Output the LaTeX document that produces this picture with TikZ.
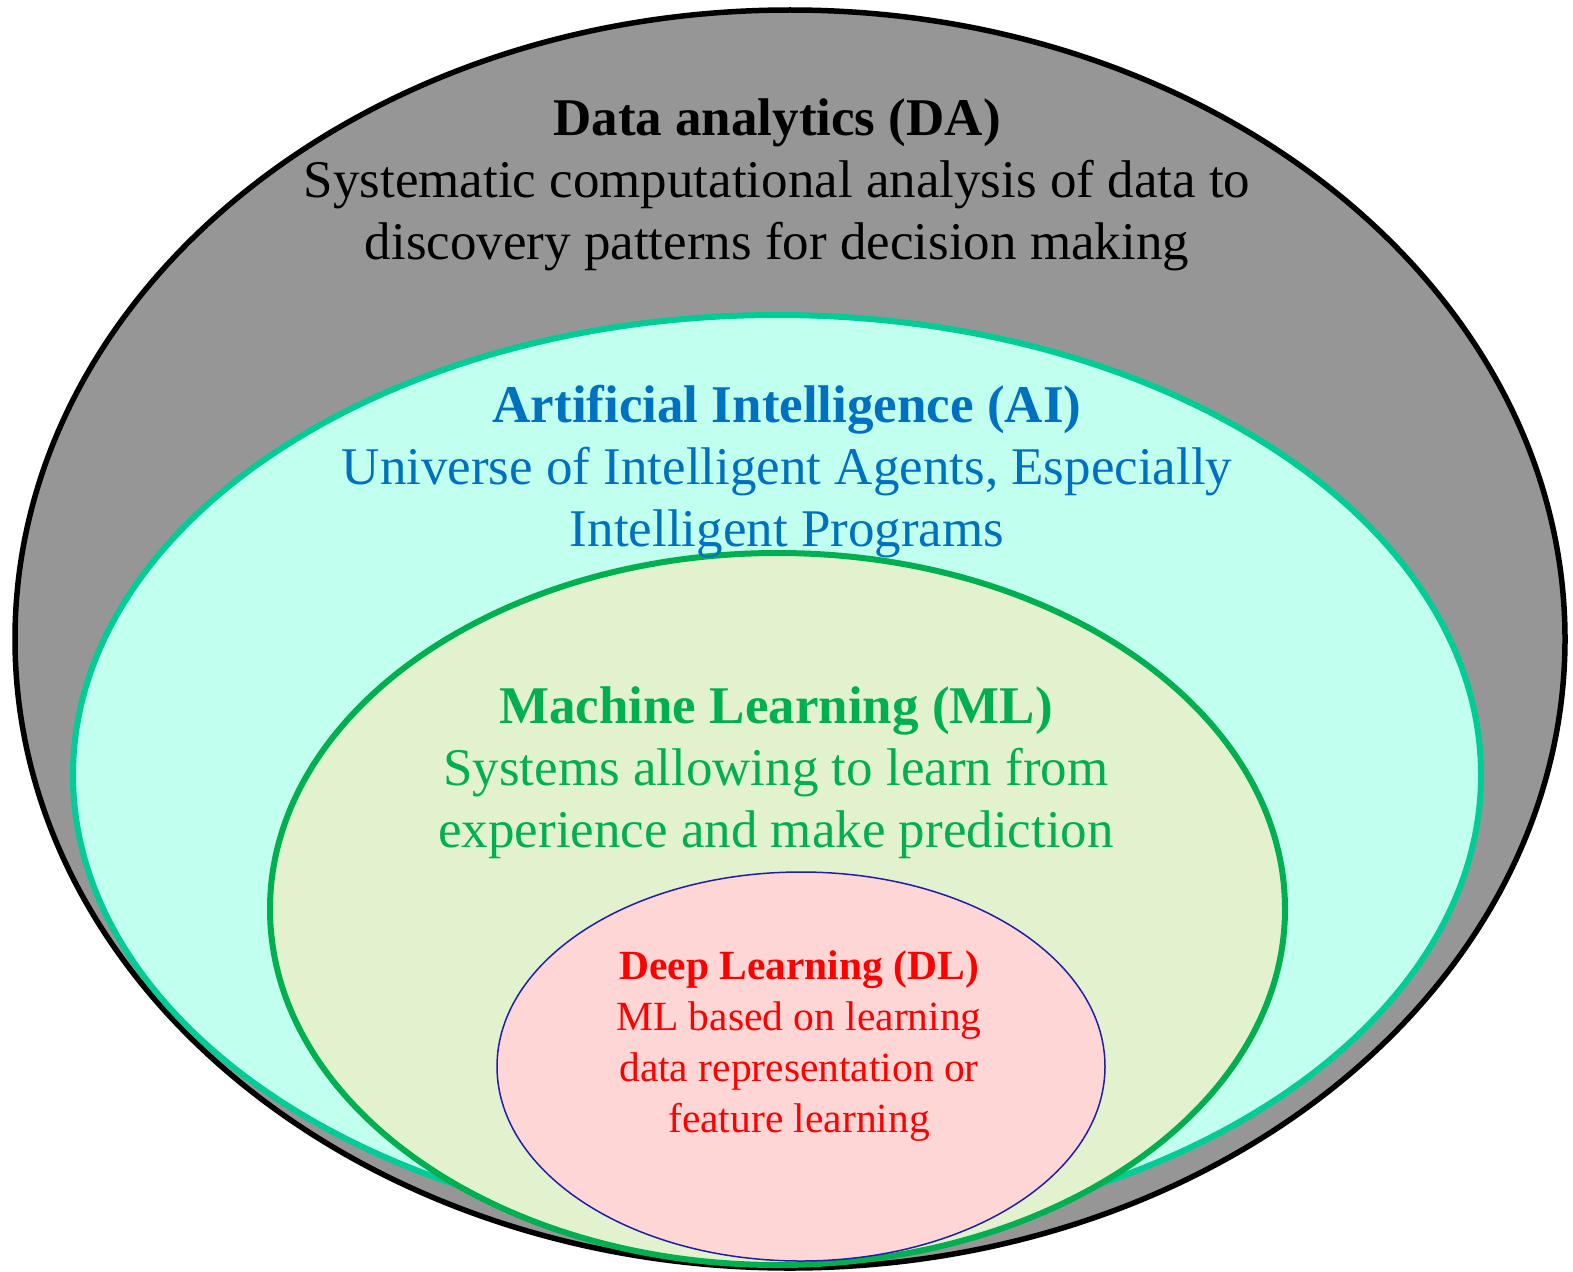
\documentclass[tikz,border=0pt]{standalone}
\usepackage{fontspec}
\setmainfont{Liberation Serif}
\usetikzlibrary{shapes.geometric}
\definecolor{dagray}{RGB}{150,150,150}
\definecolor{aifill}{RGB}{193,255,238}
\definecolor{ailine}{RGB}{0,204,150}
\definecolor{aitext}{RGB}{0,112,192}
\definecolor{mlfill}{RGB}{227,242,206}
\definecolor{mlline}{RGB}{0,176,80}
\definecolor{dlfill}{RGB}{255,214,214}
\definecolor{dlline}{RGB}{30,30,170}
\tikzset{
  set/.style={ellipse, inner sep=0pt},
  bigtext/.style={align=center, font=\fontsize{53}{62}\selectfont, inner sep=0pt},
  smalltext/.style={align=center, font=\fontsize{41.5}{51}\selectfont, inner sep=0pt},
}
\begin{document}
\begin{tikzpicture}[x=1pt,y=-1pt]
\useasboundingbox (0,0) rectangle (1573,1271);
% nested sets
\node[set, draw=black, line width=5.5pt, fill=dagray,
      minimum width=1550pt, minimum height=1258pt] (da) at (790,639) {};
\node[set, draw=ailine, line width=6pt, fill=aifill,
      minimum width=1408pt, minimum height=920pt] (ai) at (777,775) {};
\node[set, draw=mlline, line width=6pt, fill=mlfill,
      minimum width=1015pt, minimum height=712pt] (ml) at (777.5,909) {};
\node[set, draw=dlline, line width=1.5pt, fill=dlfill,
      minimum width=608pt, minimum height=389pt] (dl) at (801,1066.5) {};
% labels
\node[bigtext, text=black] (datext) at (777,185)
  {\textbf{Data analytics (DA)}\\Systematic computational analysis of data to\\discovery patterns for decision making};
\node[bigtext, text=aitext] (aitxt) at (787,472)
  {\textbf{Artificial Intelligence (AI)}\\Universe of Intelligent Agents, Especially\\Intelligent Programs};
\node[bigtext, text=mlline] (mltxt) at (776,773)
  {\textbf{Machine Learning (ML)}\\Systems allowing to learn from\\experience and make prediction};
\node[smalltext, text=red] (dltxt) at (799,1046)
  {\textbf{Deep Learning (DL)}\\ML based on learning\\data representation or\\feature learning};
\end{tikzpicture}
\end{document}
